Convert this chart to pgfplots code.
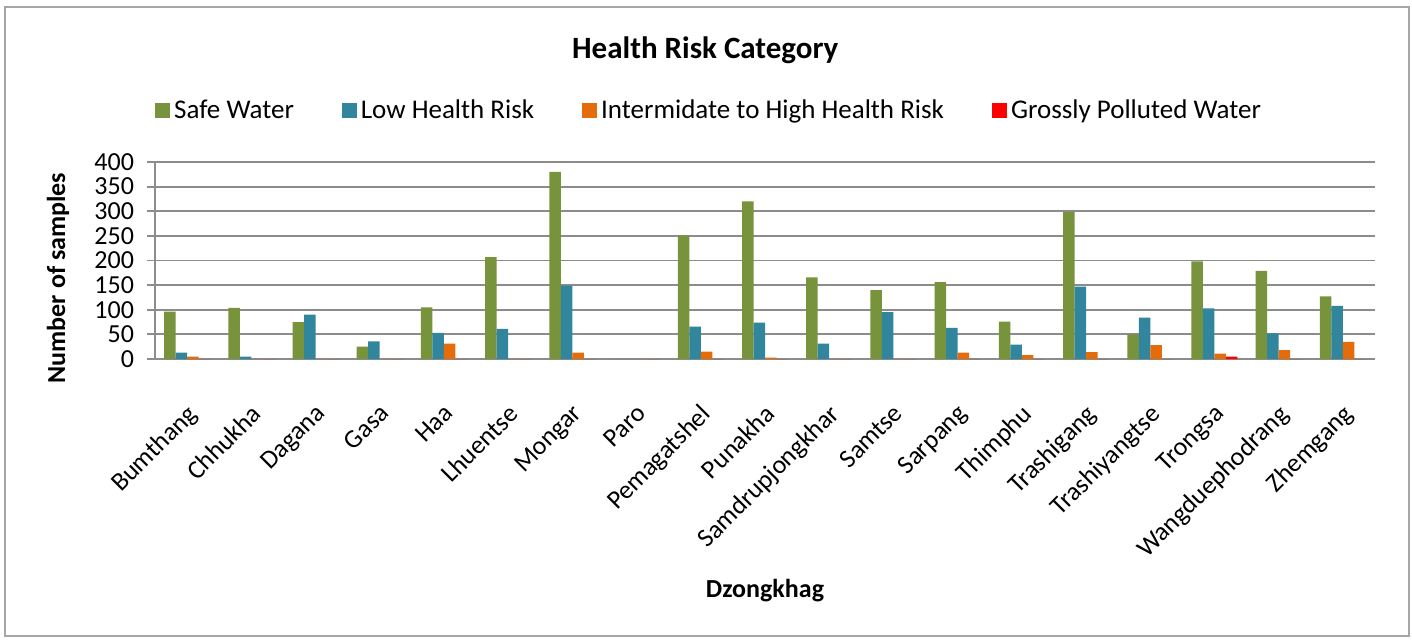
\documentclass[border=0pt]{standalone}
\usepackage{pgfplots}
\pgfplotsset{compat=1.18}
\usepackage{pgfplotstable}
\usepackage{fontspec}
\setmainfont{Carlito}
\definecolor{cSafe}{HTML}{77933C}
\definecolor{cLow}{HTML}{31859C}
\definecolor{cInt}{HTML}{E46C0A}
\definecolor{cGross}{HTML}{FF0000}
\definecolor{gridc}{HTML}{8C8C8C}
\pgfplotstableread{
idx safe low inter gross
0 96 13 5 0
1 104 5 0 0
2 75 90 0 0
3 25 36 0 0
4 105 53 31 0
5 207 61 0 0
6 380 149 13 0
7 0 0 0 0
8 251 66 15 0
9 320 74 3 0
10 166 31 0 0
11 140 95 0 0
12 156 63 13 0
13 76 29 8 0
14 298 147 14 0
15 50 84 28 0
16 198 103 11 5
17 179 52 18 0
18 127 108 35 0
}\datatable
\begin{document}
\begin{tikzpicture}
\useasboundingbox (-77.5pt,-140pt) rectangle (628.5pt,179.5pt);
\begin{axis}[
  scale only axis,
  width=610pt, height=98.5pt,
  xmin=-0.5, xmax=18.5, ymin=0, ymax=400,
  enlargelimits=false,
  ybar=0pt, bar width=5.75pt,
  axis lines*=left,
  axis line style={gridc, line width=0.9pt},
  ytick distance=50,
  ymajorgrids, grid style={gridc, line width=0.9pt},
  tick align=outside,
  major tick length=4pt,
  tick style={gridc, line width=0.9pt},
  xtick={0,...,18},
  x tick style={draw=none},
  minor xtick={-0.5,0.5,...,18.5},
  minor tick length=4pt,
  minor x tick style={gridc, line width=0.9pt},
  xticklabels={Bumthang,Chhukha,Dagana,Gasa,Haa,Lhuentse,Mongar,Paro,Pemagatshel,Punakha,Samdrupjongkhar,Samtse,Sarpang,Thimphu,Trashigang,Trashiyangtse,Trongsa,Wangduephodrang,Zhemgang},
  xticklabel style={rotate=45, anchor=north east, font=\fontsize{13}{16}\selectfont, inner sep=1pt, yshift=-11pt, xshift=-12pt},
  yticklabel style={font=\fontsize{13}{15}\selectfont, xshift=-3pt},
  /pgf/number format/assume math mode=true,
  title={\textbf{Health Risk Category}},
  title style={at={(0.451,1.508)}, anchor=center, font=\fontsize{15.5}{18}\selectfont},
  xlabel={\textbf{Dzongkhag}},
  xlabel style={at={(axis description cs:0.5,-1.173)}, anchor=center, font=\fontsize{13}{15}\selectfont},
  ylabel={\textbf{Number of samples}},
  ylabel style={at={(axis description cs:-0.0795,0.411)}, anchor=center, font=\fontsize{13}{15}\selectfont},
  legend columns=4,
  legend style={at={(0.455,1.259)}, anchor=center, draw=none, fill=none, font=\fontsize{13.5}{16}\selectfont,
    /tikz/every even column/.append style={column sep=22pt}},
  legend image code/.code={\fill[#1] (0pt,-3.75pt) rectangle (7.5pt,3.75pt);},
  every axis plot/.append style={draw=none},
]
\addplot[fill=cSafe] table[x=idx,y=safe]{\datatable};
\addplot[fill=cLow] table[x=idx,y=low]{\datatable};
\addplot[fill=cInt] table[x=idx,y=inter]{\datatable};
\addplot[fill=cGross] table[x=idx,y=gross]{\datatable};
\legend{Safe Water,Low Health Risk,Intermidate to High Health Risk,Grossly Polluted Water}
\end{axis}
\draw[gray!70, line width=1pt] (-75pt,-138.5pt) rectangle (627pt,176pt);
\end{tikzpicture}
\end{document}
